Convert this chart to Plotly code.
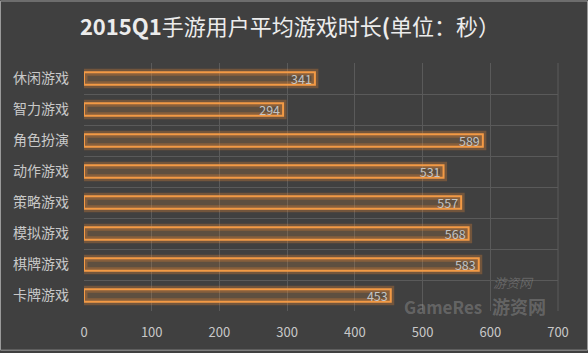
import plotly.graph_objects as go

categories = ["休闲游戏", "智力游戏", "角色扮演", "动作游戏", "策略游戏", "模拟游戏", "棋牌游戏", "卡牌游戏"]
values = [341, 294, 589, 531, 557, 568, 583, 453]
x_ticks = [0, 100, 200, 300, 400, 500, 600, 700]

W, H = 588, 353
ML, MR, MT, MB = 84, 30, 63, 40
PW, PH = W - ML - MR, H - MT - MB

font_family = "Noto Sans CJK SC, Noto Sans, sans-serif"
orange = "#F39A45"

fig = go.Figure()
# glow layer
fig.add_trace(go.Bar(
    y=categories, x=values, orientation="h", width=0.4,
    marker=dict(color="rgba(243,154,69,0.10)", line=dict(color="rgba(243,140,50,0.28)", width=7)),
    hoverinfo="skip", showlegend=False,
))
# main bars
fig.add_trace(go.Bar(
    y=categories, x=values, orientation="h", width=0.4,
    marker=dict(color="rgba(243,154,69,0.08)", line=dict(color=orange, width=2)),
    text=[str(v) for v in values], textposition="inside", insidetextanchor="end",
    constraintext="none", cliponaxis=False,
    textfont=dict(color="#c4c4c4", size=12.5, family=font_family),
    showlegend=False,
))

fig.update_layout(
    width=W, height=H, barmode="overlay",
    margin=dict(l=ML, r=MR, t=MT, b=MB, pad=0),
    paper_bgcolor="#404040", plot_bgcolor="#404040",
    font=dict(family=font_family, color="#c8c8c8"),
    title=dict(
        text="<b>2015Q1</b>手游用户平均游戏时长<b>(</b>单位：秒）",
        x=290 / W, xanchor="center", y=1 - 27 / H, yanchor="middle",
        xref="container",
        font=dict(size=22, color="#ececec", family=font_family),
    ),
    xaxis=dict(
        range=[0, 700], tickvals=x_ticks, showgrid=True, gridcolor="#5a5a5a", gridwidth=1,
        zeroline=False, showline=False, ticks="", ticklabelstandoff=12,
        tickfont=dict(size=13, color="#c8c8c8"), fixedrange=True,
    ),
    yaxis=dict(
        categoryorder="array", categoryarray=categories, autorange="reversed",
        tickson="boundaries", showgrid=True, gridcolor="#5a5a5a", gridwidth=1,
        showline=False, ticks="", ticklabelstandoff=14,
        tickfont=dict(size=14, color="#c8c8c8"),
    ),
    shapes=[
        dict(type="rect", xref="paper", yref="paper",
             x0=-ML / PW + 0.5 / PW, x1=1 + MR / PW - 0.5 / PW,
             y0=-MB / PH + 0.5 / PH, y1=1 + MT / PH - 0.5 / PH,
             line=dict(color="#9a9a9a", width=1), layer="below"),
        dict(type="line", xref="paper", yref="paper", x0=1, x1=1, y0=0, y1=1,
             line=dict(color="#5a5a5a", width=1)),
    ],
    annotations=[
        dict(text="<b>GameRes</b>", xref="paper", yref="paper",
             x=(402 - ML) / PW, y=-(308 - (H - MB)) / PH, xanchor="left", yanchor="middle",
             showarrow=False, font=dict(size=17, color="rgba(190,190,190,0.30)", family=font_family)),
        dict(text="<b>游资网</b>", xref="paper", yref="paper",
             x=(490 - ML) / PW, y=-(308 - (H - MB)) / PH, xanchor="left", yanchor="middle",
             showarrow=False, font=dict(size=18, color="rgba(190,190,190,0.30)", family=font_family)),
        dict(text="<i>游资网</i>", xref="paper", yref="paper",
             x=(513 - ML) / PW, y=1 - (284 - MT) / PH, xanchor="center", yanchor="middle",
             showarrow=False, font=dict(size=13, color="rgba(190,190,190,0.3)", family=font_family)),
    ],
)

fig.write_html("out.html")
